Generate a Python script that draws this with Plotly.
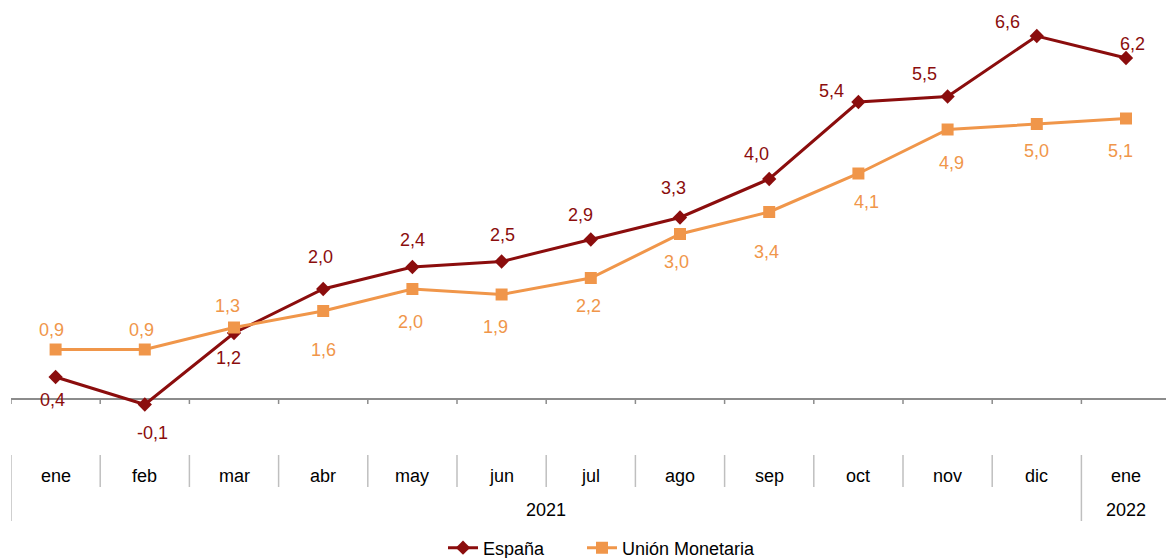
import plotly.graph_objects as go

months = ["ene", "feb", "mar", "abr", "may", "jun", "jul", "ago", "sep", "oct", "nov", "dic", "ene"]
years = ["2021", "2022"]
year_span = [(0, 11), (12, 12)]
espana = [0.4, -0.1, 1.2, 2.0, 2.4, 2.5, 2.9, 3.3, 4.0, 5.4, 5.5, 6.6, 6.2]
union = [0.9, 0.9, 1.3, 1.6, 2.0, 1.9, 2.2, 3.0, 3.4, 4.1, 4.9, 5.0, 5.1]

# label offsets in px (dx, dy), dy positive = downward
esp_off = [(-3, 23), (8, 28), (-6, 25), (-3, -32), (0, -27), (1, -27), (-10, -25),
           (-7, -30), (-13, -25), (-27, -11), (-23, -23), (-29, -14), (6, -14)]
uni_off = [(-4, -20), (-3, -20), (-7, -22), (0, 39), (-2, 33), (-6, 32), (-2, 28),
           (-4, 28), (-3, 40), (8, 28), (4, 33), (0, 27), (-6, 32)]

RED = "#8B0D0D"
ORANGE = "#F0964A"
FONT = "Liberation Sans, Arial, sans-serif"
W, H = 1166, 558
ML, MT, MB = 11, 0, 108
PLOT_H = H - MT - MB
PX_X = 89.2
x = list(range(len(months)))
xr = [-0.5, -0.5 + (W - ML) / PX_X]
PX_Y = 55.0
zero_px = 399
yr = [-(PLOT_H - zero_px) / PX_Y, zero_px / PX_Y]


def pp(ypx):
    return (PLOT_H - ypx) / PLOT_H


def fmt(v):
    return f"{v:.1f}".replace(".", ",")


fig = go.Figure()
fig.add_trace(go.Scatter(x=x, y=espana, mode="lines+markers", name="España",
                         line=dict(color=RED, width=3), legend="legend",
                         marker=dict(symbol="diamond", size=11, color=RED)))
fig.add_trace(go.Scatter(x=x, y=union, mode="lines+markers", name="Unión Monetaria",
                         line=dict(color=ORANGE, width=3), legend="legend2",
                         marker=dict(symbol="square", size=12, color=ORANGE)))

ann = []
for i, v in enumerate(espana):
    dx, dy = esp_off[i]
    ann.append(dict(x=i, y=v, xref="x", yref="y", text=fmt(v), showarrow=False,
                    xshift=dx, yshift=-dy, font=dict(color=RED, size=18, family=FONT)))
for i, v in enumerate(union):
    dx, dy = uni_off[i]
    ann.append(dict(x=i, y=v, xref="x", yref="y", text=fmt(v), showarrow=False,
                    xshift=dx, yshift=-dy, font=dict(color=ORANGE, size=18, family=FONT)))
for i, m in enumerate(months):
    ann.append(dict(x=i, y=pp(476), xref="x", yref="paper", text=m, showarrow=False,
                    yanchor="middle", font=dict(color="#000000", size=18, family=FONT)))
for yl, (a, b) in zip(years, year_span):
    ann.append(dict(x=(a + b) / 2, y=pp(510), xref="x", yref="paper", text=yl, showarrow=False,
                    yanchor="middle", font=dict(color="#000000", size=18, family=FONT)))

shapes = []
for k in range(len(months)):
    b = k - 0.5
    shapes.append(dict(type="line", xref="x", yref="y", x0=b, x1=b, y0=0, y1=-5 / PX_Y,
                       line=dict(color="#8C8C8C", width=1.5)))
    tall = (k == 0) or (k == 12)
    shapes.append(dict(type="line", xref="x", yref="paper", x0=b, x1=b,
                       y0=pp(455), y1=pp(521 if tall else 487),
                       line=dict(color="#BFBFBF", width=1.5)))


def leg(left_px):
    return dict(orientation="h", x=(left_px - ML) / (W - ML), xanchor="left", xref="paper",
                y=(H - 548) / H, yanchor="middle", yref="container",
                font=dict(size=18, family=FONT, color="#000000"),
                bgcolor="rgba(0,0,0,0)")


fig.update_layout(
    width=W, height=H,
    margin=dict(l=ML, r=0, t=MT, b=MB),
    paper_bgcolor="white", plot_bgcolor="white",
    showlegend=True,
    legend=leg(443),
    legend2=leg(582),
    xaxis=dict(range=xr, showgrid=False, zeroline=False, showticklabels=False,
               showline=False, fixedrange=True),
    yaxis=dict(range=yr, showgrid=False, zeroline=True, zerolinecolor="#8C8C8C",
               zerolinewidth=2, showticklabels=False, showline=False, fixedrange=True),
    annotations=ann, shapes=shapes,
    font=dict(family=FONT),
)

fig.write_html("out.html", config={"displayModeBar": False},
               post_script="document.body.style.margin='0';document.body.style.overflow='hidden';")
